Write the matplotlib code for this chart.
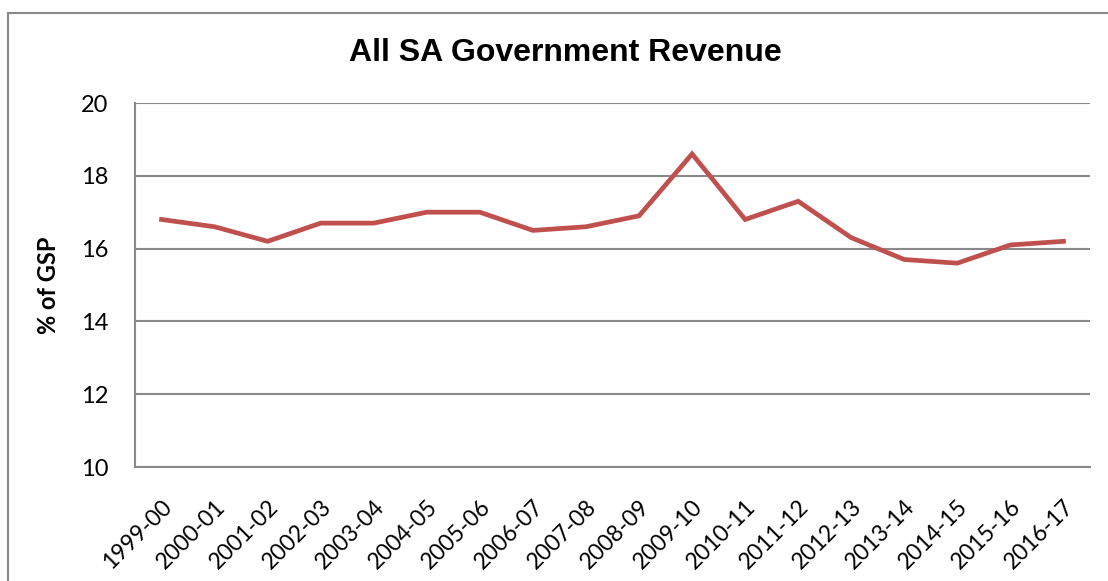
import numpy as np
import matplotlib
matplotlib.use('Agg')
import matplotlib.pyplot as plt
import matplotlib.transforms as mtrans
from matplotlib.lines import Line2D

years = ['1999-00', '2000-01', '2001-02', '2002-03', '2003-04', '2004-05',
         '2005-06', '2006-07', '2007-08', '2008-09', '2009-10', '2010-11',
         '2011-12', '2012-13', '2013-14', '2014-15', '2015-16', '2016-17']
revenue = [16.8, 16.6, 16.2, 16.7, 16.7, 17.0, 17.0, 16.5, 16.6, 16.9,
           18.6, 16.8, 17.3, 16.3, 15.7, 15.6, 16.1, 16.2]
yticks = [10, 12, 14, 16, 18, 20]

grid_col = '#898989'
line_col = '#C0504D'
lab_font = ['Lato', 'DejaVu Sans']

fig = plt.figure(figsize=(11.08, 5.81), dpi=100)
ax = fig.add_axes([135/1108, 1-467/581, (1090-135)/1108, (467-103)/581])

x = np.arange(len(years))
ax.plot(x, revenue, color=line_col, lw=3.4, solid_joinstyle='miter', zorder=3)

ax.set_xlim(-0.5, len(years)-0.5)
ax.set_ylim(10, 20)
ax.set_yticks(yticks)
ax.set_yticklabels([str(v) for v in yticks], fontsize=17, family=lab_font)
ax.set_xticks(x)
ax.set_xticklabels(years, fontsize=16.5, family=lab_font, rotation=45,
                   ha='right', va='top', rotation_mode='anchor')
offset = mtrans.ScaledTranslation(1/100, 0, fig.dpi_scale_trans)
for lbl in ax.get_xticklabels():
    lbl.set_transform(lbl.get_transform() + offset)

ax.tick_params(axis='both', length=0)
ax.tick_params(axis='y', pad=19)
ax.tick_params(axis='x', pad=21)
ax.grid(axis='y', color=grid_col, lw=1.5)
ax.set_axisbelow(True)
for s in ['top', 'right']:
    ax.spines[s].set_visible(False)
for s in ['left', 'bottom']:
    ax.spines[s].set_color(grid_col)
    ax.spines[s].set_linewidth(1.5)

ax.set_ylabel('% of GSP', fontsize=17, family=lab_font, fontweight='bold')
ax.yaxis.set_label_coords(-75/955, 0.5)

fig.text(565/1108, 1-53/581, 'All SA Government Revenue', ha='center', va='center',
         fontsize=23, fontweight='bold', family='Liberation Sans')

# outer chart frame (left and top edges)
fig.add_artist(Line2D([8/1108, 8/1108], [0, 1-13/581], color=grid_col, lw=1.5,
                      transform=fig.transFigure))
fig.add_artist(Line2D([8/1108, 1], [1-13/581, 1-13/581], color=grid_col, lw=1.5,
                      transform=fig.transFigure))

fig.savefig('out.png', dpi=100)
